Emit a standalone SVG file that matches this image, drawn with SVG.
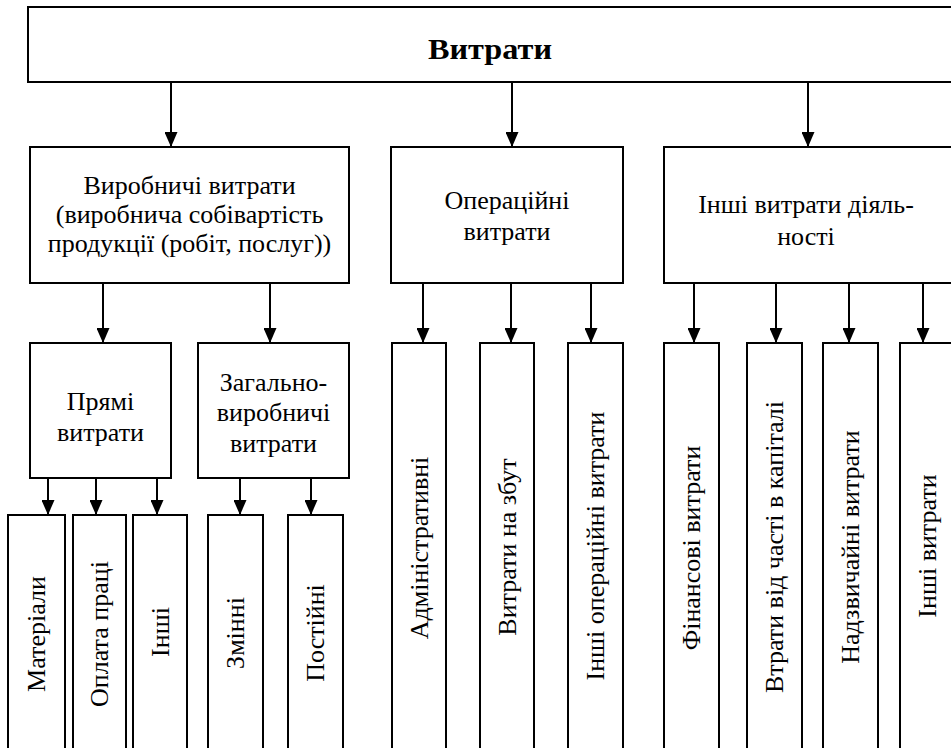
<svg xmlns="http://www.w3.org/2000/svg" width="951" height="748" viewBox="0 0 951 748">
<style>
.box{fill:#fff;stroke:#000;stroke-width:2}
.t{font-family:"Liberation Serif","Times New Roman",serif;font-size:26px;fill:#000;text-anchor:middle}
.title{font-family:"Liberation Serif","Times New Roman",serif;font-size:29px;font-weight:bold;fill:#000;text-anchor:middle}
.c{stroke:#000;stroke-width:2;fill:none;marker-end:url(#ah)}
</style>
<defs>
<marker id="ah" viewBox="0 0 15 13" refX="15" refY="6.5" markerWidth="15" markerHeight="13" markerUnits="userSpaceOnUse" orient="auto">
<path d="M0,0 L15,6.5 L0,13 Z" fill="#000"/>
</marker>
</defs>
<rect width="951" height="748" fill="#fff"/>

<g id="connectors">
<line class="c" x1="171" y1="82" x2="171" y2="147"/>
<line class="c" x1="512" y1="82" x2="512" y2="147"/>
<line class="c" x1="808" y1="82" x2="808" y2="147"/>
<line class="c" x1="103" y1="283" x2="103" y2="343"/>
<line class="c" x1="270" y1="283" x2="270" y2="343"/>
<line class="c" x1="423" y1="283" x2="423" y2="343"/>
<line class="c" x1="511" y1="283" x2="511" y2="343"/>
<line class="c" x1="591" y1="283" x2="591" y2="343"/>
<line class="c" x1="694" y1="283" x2="694" y2="343"/>
<line class="c" x1="776" y1="283" x2="776" y2="343"/>
<line class="c" x1="849" y1="283" x2="849" y2="343"/>
<line class="c" x1="923" y1="283" x2="923" y2="343"/>
<line class="c" x1="48" y1="478" x2="48" y2="515"/>
<line class="c" x1="96" y1="478" x2="96" y2="515"/>
<line class="c" x1="157" y1="478" x2="157" y2="515"/>
<line class="c" x1="240" y1="478" x2="240" y2="515"/>
<line class="c" x1="311" y1="478" x2="311" y2="515"/>
</g>

<g id="n-vytraty">
<rect class="box" x="28" y="7" width="940" height="75"/>
<text class="title" x="490" y="59" textLength="124" lengthAdjust="spacingAndGlyphs">Витрати</text>
</g>

<g id="n-vyrobnychi">
<rect class="box" x="30" y="147" width="319" height="136"/>
<text class="t" x="189.5" y="194">Виробничі витрати</text>
<text class="t" x="189.5" y="223">(виробнича собівартість</text>
<text class="t" x="189.5" y="252">продукції (робіт, послуг))</text>
</g>

<g id="n-operatsiini">
<rect class="box" x="391" y="147" width="232" height="136"/>
<text class="t" x="507" y="209">Операційні</text>
<text class="t" x="507" y="240">витрати</text>
</g>

<g id="n-inshi-diialnosti">
<rect class="box" x="664" y="147" width="300" height="136"/>
<text class="t" x="806" y="213">Інші витрати діяль-</text>
<text class="t" x="806" y="245">ності</text>
</g>

<g id="n-priami">
<rect class="box" x="30" y="343" width="141" height="135"/>
<text class="t" x="100.5" y="410">Прямі</text>
<text class="t" x="100.5" y="441">витрати</text>
</g>

<g id="n-zahalno">
<rect class="box" x="198" y="343" width="151" height="135"/>
<text class="t" x="273.5" y="391">Загально-</text>
<text class="t" x="273.5" y="421">виробничі</text>
<text class="t" x="273.5" y="452">витрати</text>
</g>

<g id="n-admin">
<rect class="box" x="392" y="343" width="54" height="420"/>
<text class="t" transform="translate(427.5,548) rotate(-90)">Адміністративні</text>
</g>
<g id="n-zbut">
<rect class="box" x="480" y="343" width="54" height="420"/>
<text class="t" transform="translate(515.5,547) rotate(-90)">Витрати на збут</text>
</g>
<g id="n-inshi-oper">
<rect class="box" x="568" y="343" width="55" height="420"/>
<text class="t" transform="translate(604,546) rotate(-90)">Інші операційні витрати</text>
</g>
<g id="n-finansovi">
<rect class="box" x="664" y="343" width="55" height="420"/>
<text class="t" transform="translate(700,548) rotate(-90)">Фінансові витрати</text>
</g>
<g id="n-vtraty-chasti">
<rect class="box" x="747" y="343" width="55" height="420"/>
<text class="t" transform="translate(783,547) rotate(-90)">Втрати від часті в капіталі</text>
</g>
<g id="n-nadzvychaini">
<rect class="box" x="823" y="343" width="55" height="420"/>
<text class="t" transform="translate(859,547) rotate(-90)">Надзвичайні витрати</text>
</g>
<g id="n-inshi-vytraty">
<rect class="box" x="900" y="343" width="60" height="420"/>
<text class="t" transform="translate(936,546) rotate(-90)">Інші витрати</text>
</g>

<g id="n-materialy">
<rect class="box" x="8" y="515" width="57" height="250"/>
<text class="t" transform="translate(45,634) rotate(-90)">Матеріали</text>
</g>
<g id="n-oplata">
<rect class="box" x="73" y="515" width="53" height="250"/>
<text class="t" transform="translate(108,634) rotate(-90)">Оплата праці</text>
</g>
<g id="n-inshi">
<rect class="box" x="133" y="515" width="54" height="250"/>
<text class="t" transform="translate(168.5,632) rotate(-90)">Інші</text>
</g>
<g id="n-zminni">
<rect class="box" x="208" y="515" width="55" height="250"/>
<text class="t" transform="translate(244,633) rotate(-90)">Змінні</text>
</g>
<g id="n-postiini">
<rect class="box" x="288" y="515" width="55" height="250"/>
<text class="t" transform="translate(324,633) rotate(-90)">Постійні</text>
</g>
</svg>
